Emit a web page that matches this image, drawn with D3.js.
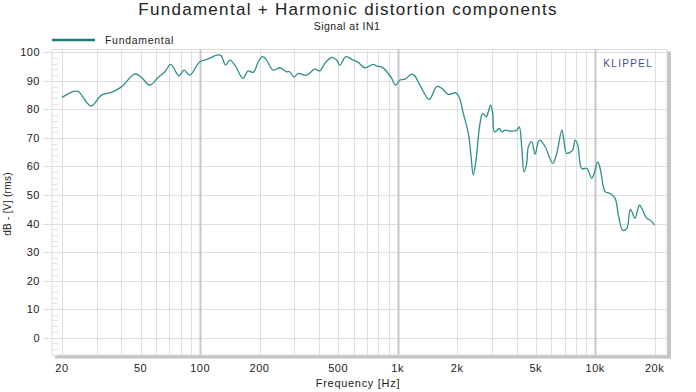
<!DOCTYPE html>
<html>
<head>
<meta charset="utf-8">
<script src="https://cdn.jsdelivr.net/npm/d3@7"></script>
<style>
  body { margin: 0; background: #fff; }
  svg { display: block; font-family: "Liberation Sans", Arial, sans-serif; }
</style>
</head>
<body>
<svg width="696" height="392"></svg>
<script>
'use strict';

// measured curve (Hz, dB)
const freqs = [20, 23.2, 24.3, 28, 31.7, 35.6, 40, 46.7, 50.5, 55.6, 61.3, 66.3, 71.1, 78, 83, 88.7,
  99.7, 110, 123, 128, 134.6, 141.6, 150, 165, 175, 186, 197, 207, 215, 234.5, 253.6, 274, 284,
  299, 314, 346, 381, 404, 428, 463, 491, 510, 547, 596, 632, 682, 753, 783, 830, 897, 933, 977,
  1028, 1089, 1153, 1178, 1223, 1297, 1446, 1577, 1671, 1804, 1975, 2053, 2150, 2280, 2350, 2415,
  2493, 2612, 2697, 2812, 2878, 2958, 3028, 3091, 3272, 3366, 3500, 3707, 4010, 4130, 4247, 4365,
  4505, 4590, 4774, 4965, 5153, 5262, 5582, 6100, 6390, 6776, 6904, 7180, 7683, 7910, 8164, 8550,
  9070, 9620, 9880, 10300, 10600, 11250, 11910, 12620, 13110, 13800, 14460, 15030, 15350, 15920,
  16740, 17220, 18250, 18970, 20000];
const fundamental = [84.2, 86.4, 86.2, 81.2, 85.0, 86.0, 87.9, 92.4, 91.2, 88.5, 91.2, 93.2, 95.8, 91.8, 93.8, 92.0,
  96.7, 97.7, 99.1, 98.8, 95.5, 97.3, 95.5, 90.9, 93.5, 93.0, 96.7, 98.5, 97.7, 93.8, 94.6, 93.2, 93.2,
  91.4, 92.6, 92.0, 94.1, 93.5, 96.1, 98.2, 97.3, 95.5, 98.5, 97.3, 96.5, 94.6, 95.8, 95.2, 94.9, 92.6, 90.9, 88.5,
  90.3, 90.6, 92.0, 92.4, 91.7, 88.5, 83.5, 88.0, 87.4, 85.3, 85.8, 84.2, 78.6, 71.6, 64.0, 57.0,
  62.2, 75.1, 78.6, 77.4, 79.2, 81.5, 78.6, 72.1, 73.3, 72.1, 72.7, 72.4, 72.7, 73.9, 66.9, 58.1,
  61.1, 66.9, 68.6, 64.3, 68.6, 69.2, 66.9, 61.1, 64.6, 72.7, 70.4, 64.6, 65.7, 69.2, 67.5, 59.3,
  59.3, 55.8, 57.5, 61.6, 59.3, 51.1, 50.5, 48.8, 42.9, 37.6, 38.2, 44.9, 44.1, 41.8,
  46.4, 45.3, 41.8, 41.2, 39.4];

const yTicks = [0, 10, 20, 30, 40, 50, 60, 70, 80, 90, 100];
const xTickValues = [20, 50, 100, 200, 500, 1000, 2000, 5000, 10000, 20000];
const xTickLabels = ["20", "50", "100", "200", "500", "1k", "2k", "5k", "10k", "20k"];
const gridFreqs = [20, 30, 40, 50, 60, 70, 80, 90, 100, 200, 300, 400, 500, 600, 700, 800, 900,
  1000, 2000, 3000, 4000, 5000, 6000, 7000, 8000, 9000, 10000, 20000];
const majorFreqs = [100, 1000, 10000];

const svg = d3.select("svg");
const plotL = 52, plotR = 667, plotT = 49.5, plotB = 355;

const x = d3.scaleLog().domain([17.8, 23100]).range([plotL, plotR]);
const y = d3.scaleLinear().domain([-6.1, 101]).range([plotB, plotT]);

// title
svg.append("text").attr("x", 348).attr("y", 15).attr("text-anchor", "middle")
  .attr("font-size", 17).attr("fill", "#222").attr("letter-spacing", 1.3)
  .text("Fundamental + Harmonic distortion components");
svg.append("text").attr("x", 347).attr("y", 29.5).attr("text-anchor", "middle")
  .attr("font-size", 10.5).attr("letter-spacing", 0.5).attr("fill", "#222")
  .text("Signal at IN1");

// legend
svg.append("line").attr("x1", 52).attr("x2", 95).attr("y1", 40).attr("y2", 40)
  .attr("stroke", "#1f7f78").attr("stroke-width", 2.5);
svg.append("text").attr("x", 105).attr("y", 43.5).attr("font-size", 10.5).attr("letter-spacing", 0.7)
  .attr("fill", "#222").text("Fundamental");

// shadow
svg.append("rect").attr("x", plotL + 3).attr("y", plotB).attr("width", plotR - plotL + 1).attr("height", 3.5)
  .attr("fill", "#c4c4c4");
svg.append("rect").attr("x", plotR).attr("y", plotT + 2).attr("width", 4).attr("height", plotB - plotT + 1.5)
  .attr("fill", "#c4c4c4");

// plot background + frame
svg.append("rect").attr("x", plotL).attr("y", plotT).attr("width", plotR - plotL).attr("height", plotB - plotT)
  .attr("fill", "#fff").attr("stroke", "#dcdcdc");

const grid = svg.append("g");
grid.selectAll("line.h").data(yTicks).join("line")
  .attr("x1", plotL - 9).attr("x2", plotR)
  .attr("y1", d => Math.round(y(d)) + 0.5).attr("y2", d => Math.round(y(d)) + 0.5)
  .attr("stroke", "#dedede");

// minor y ticks every 2 dB
const minorY = d3.range(-6, 101, 2).filter(d => d % 10 !== 0);
grid.selectAll("line.m").data(minorY).join("line")
  .attr("x1", plotL).attr("x2", plotL + 6)
  .attr("y1", d => Math.round(y(d)) + 0.5).attr("y2", d => Math.round(y(d)) + 0.5)
  .attr("stroke", "#e4e4e4");

grid.selectAll("line.v").data(gridFreqs).join("line")
  .attr("x1", d => Math.round(x(d)) + 0.5).attr("x2", d => Math.round(x(d)) + 0.5)
  .attr("y1", plotT).attr("y2", plotB)
  .attr("stroke", d => majorFreqs.includes(d) ? "#c8c8c8" : "#dedede")
  .attr("stroke-width", d => majorFreqs.includes(d) ? 2 : 1);

// axes labels
svg.append("g").selectAll("text").data(yTicks).join("text")
  .attr("x", 40).attr("y", d => y(d) + 4).attr("text-anchor", "end")
  .attr("font-size", 11).attr("letter-spacing", 0.5).attr("fill", "#222").text(d => d);

svg.append("g").selectAll("text").data(xTickValues).join("text")
  .attr("x", d => x(d)).attr("y", 372).attr("text-anchor", "middle")
  .attr("font-size", 11).attr("letter-spacing", 0.5).attr("fill", "#222").text((d, i) => xTickLabels[i]);

svg.append("text").attr("x", 358).attr("y", 387).attr("text-anchor", "middle")
  .attr("font-size", 11).attr("letter-spacing", 0.7).attr("fill", "#222").text("Frequency [Hz]");
svg.append("text").attr("transform", "translate(11,204) rotate(-90)").attr("text-anchor", "middle")
  .attr("font-size", 10).attr("letter-spacing", 0.3).attr("fill", "#222").text("dB - [V] (rms)");

svg.append("text").attr("x", 653).attr("y", 67).attr("text-anchor", "end")
  .attr("font-size", 10).attr("letter-spacing", 1.3).attr("fill", "#3e4f8e").text("KLIPPEL");

// curve
const line = d3.line().x(d => x(d[0])).y(d => y(d[1])).curve(d3.curveCatmullRom.alpha(0.5));
svg.append("path").datum(d3.zip(freqs, fundamental))
  .attr("fill", "none").attr("stroke", "#2e8e8a").attr("stroke-width", 1.3)
  .attr("d", line);
</script>
</body>
</html>
